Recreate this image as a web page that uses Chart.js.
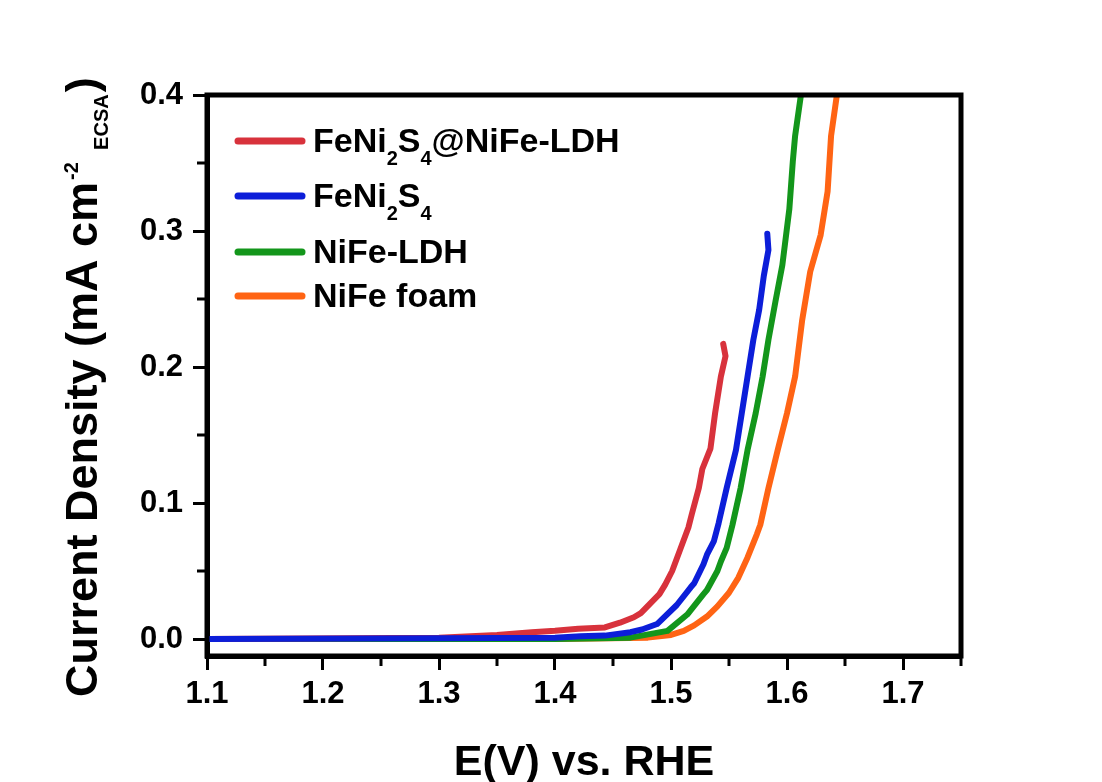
<!DOCTYPE html>
<html>
<head>
<meta charset="utf-8">
<script src="https://cdn.jsdelivr.net/npm/chart.js@4.4.0/dist/chart.umd.min.js"></script>
<style>
  html, body { margin: 0; padding: 0; background: #fff; }
  #wrap { width: 1102px; height: 782px; position: relative; }
</style>
</head>
<body>
<div id="wrap"><canvas id="lsv"></canvas></div>
<script>
// LSV polarisation curves, current normalised to ECSA

// FeNi2S4@NiFe-LDH
const E_HYBRID = [1.100, 1.300, 1.350, 1.380, 1.400, 1.420, 1.443, 1.456, 1.468, 1.474, 1.482, 1.490, 1.495, 1.501, 1.508, 1.515, 1.518, 1.524, 1.527, 1.534, 1.538, 1.543, 1.547, 1.545];
const J_HYBRID = [0.000, 0.001, 0.003, 0.005, 0.006, 0.0075, 0.0085, 0.012, 0.016, 0.019, 0.026, 0.033, 0.040, 0.050, 0.066, 0.082, 0.092, 0.111, 0.125, 0.140, 0.166, 0.193, 0.208, 0.217];

// FeNi2S4
const E_SULFIDE = [1.100, 1.300, 1.400, 1.422, 1.443, 1.465, 1.475, 1.488, 1.505, 1.517, 1.520, 1.528, 1.531, 1.537, 1.541, 1.548, 1.556, 1.561, 1.566, 1.571, 1.576, 1.580, 1.584, 1.583];
const J_SULFIDE = [0.000, 0.0005, 0.001, 0.002, 0.0025, 0.005, 0.007, 0.011, 0.025, 0.038, 0.041, 0.055, 0.062, 0.072, 0.085, 0.111, 0.139, 0.166, 0.193, 0.220, 0.242, 0.267, 0.286, 0.298];

// NiFe-LDH
const E_LDH = [1.100, 1.400, 1.465, 1.497, 1.514, 1.528, 1.531, 1.540, 1.543, 1.548, 1.553, 1.560, 1.566, 1.573, 1.579, 1.584, 1.590, 1.596, 1.602, 1.605, 1.607, 1.612];
const J_LDH = [0.000, 0.000, 0.001, 0.006, 0.018, 0.033, 0.036, 0.050, 0.057, 0.067, 0.084, 0.111, 0.139, 0.166, 0.193, 0.220, 0.248, 0.275, 0.316, 0.351, 0.370, 0.400];

// NiFe foam
const E_FOAM = [1.100, 1.400, 1.480, 1.500, 1.511, 1.520, 1.531, 1.540, 1.550, 1.558, 1.566, 1.574, 1.577, 1.584, 1.592, 1.600, 1.607, 1.613, 1.620, 1.629, 1.635, 1.638, 1.643];
const J_FOAM = [0.000, 0.000, 0.001, 0.003, 0.006, 0.010, 0.0165, 0.024, 0.034, 0.045, 0.060, 0.077, 0.084, 0.111, 0.139, 0.166, 0.193, 0.234, 0.270, 0.297, 0.329, 0.370, 0.400];

const SERIES_NAMES = ["FeNi2S4@NiFe-LDH", "FeNi2S4", "NiFe-LDH", "NiFe foam"];
// same names with subscripts marked as _{..}
const LEGEND_TEXT = ["FeNi_{2}S_{4}@NiFe-LDH", "FeNi_{2}S_{4}", "NiFe-LDH", "NiFe foam"];
const SERIES_COLORS = ["#d8323c", "#0c1ed9", "#13961b", "#ff6414"];

const X_TICKS = [1.1, 1.2, 1.3, 1.4, 1.5, 1.6, 1.7];
const X_MINOR = [1.15, 1.25, 1.35, 1.45, 1.55, 1.65, 1.75];
const Y_TICKS = [0.0, 0.1, 0.2, 0.3, 0.4];
const Y_MINOR = [0.05, 0.15, 0.25, 0.35];

const FONT = "'Liberation Sans', Arial, sans-serif";

const zip = (xs, ys) => xs.map((x, i) => ({ x, y: ys[i] }));

// split "FeNi_{2}S_{4}" into normal / subscript runs
function runs(text) {
  const out = [];
  const re = /_\{([^}]*)\}/g;
  let last = 0, m;
  while ((m = re.exec(text))) {
    if (m.index > last) out.push({ t: text.slice(last, m.index), sub: false });
    out.push({ t: m[1], sub: true });
    last = re.lastIndex;
  }
  if (last < text.length) out.push({ t: text.slice(last), sub: false });
  return out;
}

function drawRuns(ctx, x, y, parts, big, small, drop) {
  for (const p of parts) {
    ctx.font = `bold ${p.sub ? small : big}px ${FONT}`;
    ctx.fillText(p.t, x, p.sub ? y + drop : y);
    x += ctx.measureText(p.t).width;
  }
  return x;
}

const framePlugin = {
  id: "frame",
  afterDraw(chart) {
    const { ctx, chartArea: a, scales } = chart;
    ctx.save();

    // box round the plot
    ctx.strokeStyle = "#000";
    ctx.lineWidth = 5;
    ctx.strokeRect(a.left, a.top, a.right - a.left, a.bottom - a.top);

    // minor ticks
    ctx.lineWidth = 3;
    ctx.beginPath();
    for (const v of X_MINOR) {
      const px = scales.x.getPixelForValue(v);
      ctx.moveTo(px, a.bottom);
      ctx.lineTo(px, a.bottom + 10);
    }
    for (const v of Y_MINOR) {
      const py = scales.y.getPixelForValue(v);
      ctx.moveTo(a.left, py);
      ctx.lineTo(a.left - 10, py);
    }
    ctx.stroke();

    // legend
    ctx.fillStyle = "#000";
    ctx.textBaseline = "alphabetic";
    ctx.textAlign = "left";
    const rowY = [141, 196, 252, 296];
    ctx.lineCap = "round";
    ctx.lineWidth = 7;
    LEGEND_TEXT.forEach((label, i) => {
      const y = rowY[i];
      ctx.strokeStyle = SERIES_COLORS[i];
      ctx.beginPath();
      ctx.moveTo(238, y);
      ctx.lineTo(302, y);
      ctx.stroke();
      drawRuns(ctx, 313, y + 11, runs(label), 34, 20, 13);
    });

    // x title
    ctx.font = `bold 43px ${FONT}`;
    ctx.textAlign = "center";
    ctx.fillText("E(V) vs. RHE", (a.left + a.right) / 2, 775);

    // y title, rotated, with cm^-2 and ECSA subscript
    ctx.translate(97, 697);
    ctx.rotate(-Math.PI / 2);
    ctx.textAlign = "left";
    let x = 0;
    ctx.font = `bold 45px ${FONT}`;
    ctx.fillText("Current Density (mA cm", x, 0);
    x += ctx.measureText("Current Density (mA cm").width;
    ctx.font = `bold 20px ${FONT}`;
    ctx.fillText("-2", x + 2, -19);
    ctx.fillText("ECSA", x + 32, 11);
    x += 34 + ctx.measureText("ECSA").width;
    ctx.font = `bold 45px ${FONT}`;
    ctx.fillText(")", x, 0);

    ctx.restore();
  }
};

const datasets = [
  [E_HYBRID, J_HYBRID, 1],
  [E_SULFIDE, J_SULFIDE, 0],
  [E_LDH, J_LDH, 2],
  [E_FOAM, J_FOAM, 3],
].map(([xs, ys, order], i) => ({
  label: SERIES_NAMES[i],
  data: zip(xs, ys),
  borderColor: SERIES_COLORS[i],
  backgroundColor: SERIES_COLORS[i],
  borderWidth: 6,
  pointRadius: 0,
  tension: 0,
  borderCapStyle: "round",
  borderJoinStyle: "round",
  clip: 0,
  order,
}));

const tickFont = { family: FONT, size: 31, weight: "bold" };

new Chart(document.getElementById("lsv"), {
  type: "line",
  data: { datasets },
  options: {
    responsive: true,
    maintainAspectRatio: false,
    animation: false,
    layout: { padding: { top: 95, right: 141, left: 0, bottom: 0 } },
    plugins: {
      legend: { display: false },
      tooltip: { enabled: false },
    },
    scales: {
      x: {
        type: "linear",
        min: 1.1,
        max: 1.75,
        afterBuildTicks: axis => { axis.ticks = X_TICKS.map(value => ({ value })); },
        afterFit: axis => { axis.height = 126; },
        ticks: {
          font: tickFont,
          color: "#000",
          padding: 6,
          maxRotation: 0,
          callback: v => Number(v).toFixed(1),
        },
        grid: { display: true, drawOnChartArea: false, drawTicks: true, tickLength: 14, tickWidth: 3, tickColor: "#000" },
        border: { display: true, color: "#000", width: 5 },
      },
      y: {
        type: "linear",
        min: -0.0125,
        max: 0.4,
        afterBuildTicks: axis => { axis.ticks = Y_TICKS.map(value => ({ value })); },
        afterFit: axis => { axis.width = 207; },
        ticks: {
          font: tickFont,
          color: "#000",
          padding: 10,
          callback: v => Number(v).toFixed(1),
        },
        grid: { display: true, drawOnChartArea: false, drawTicks: true, tickLength: 14, tickWidth: 3, tickColor: "#000" },
        border: { display: true, color: "#000", width: 5 },
      },
    },
  },
  plugins: [framePlugin],
});
</script>
</body>
</html>
